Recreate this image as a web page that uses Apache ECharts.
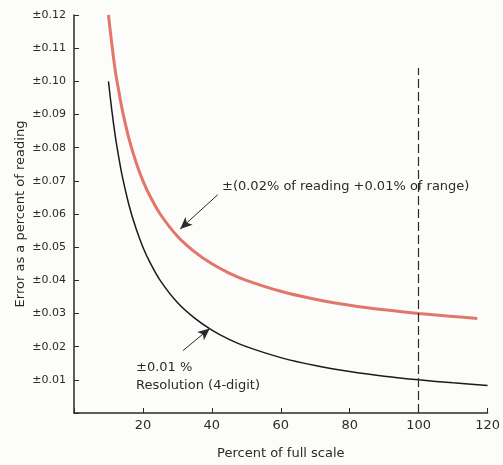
<!DOCTYPE html>
<html><head><meta charset="utf-8">
<script src="https://cdn.jsdelivr.net/npm/echarts@6/dist/echarts.min.js"></script>
<style>html,body{margin:0;padding:0;background:#fcfcfa;}#c{width:503px;height:465px;}</style>
</head><body><div id="c"></div>
<script>
// Percent of full scale (x) and error as percent of reading (y)
const redX = [10, 11, 12, 13, 14, 16, 18, 20, 22, 25, 30, 35, 40, 45, 50, 60, 70, 80, 90, 100, 110, 117];
const redY = [0.120, 0.111, 0.103, 0.097, 0.0914, 0.0825, 0.0756, 0.070, 0.0655, 0.060, 0.0533, 0.0486, 0.045, 0.0422, 0.040, 0.0367, 0.0343, 0.0325, 0.0311, 0.030, 0.0291, 0.0285];
const blackX = [10, 11, 12, 13, 14, 16, 18, 20, 22, 25, 30, 35, 40, 45, 50, 60, 70, 80, 90, 100, 110, 120];
const blackY = [0.100, 0.091, 0.0833, 0.077, 0.0714, 0.0625, 0.0556, 0.050, 0.0455, 0.040, 0.0333, 0.0286, 0.025, 0.0222, 0.020, 0.0167, 0.0143, 0.0125, 0.0111, 0.010, 0.0091, 0.0083];
const xTicks = [20, 40, 60, 80, 100, 120];
const yTicks = [0.01,0.02,0.03,0.04,0.05,0.06,0.07,0.08,0.09,0.10,0.11,0.12];
const refX = 100, refTop = 0.104;
const redLabel = '±(0.02% of reading +0.01% of range)';
const blackLabel1 = '±0.01 %';
const blackLabel2 = 'Resolution (4-digit)';

const FONT = 'DejaVu Sans';
const ink = '#2a2a2a';
const chart = echarts.init(document.getElementById('c'));
const zip = (a, b) => a.map((v, i) => [v, b[i]]);
chart.setOption({
  backgroundColor: '#fcfcfa',
  animation: false,
  grid: { left: 74, right: 15, top: 15, bottom: 47 },
  xAxis: {
    type: 'value', min: 0, max: 120, interval: 20,
    name: 'Percent of full scale', nameLocation: 'middle', nameGap: 34,
    nameTextStyle: { fontFamily: FONT, fontSize: 13, color: ink },
    axisLine: { lineStyle: { color: ink, width: 1.5 } },
    axisTick: { inside: true, length: 5, lineStyle: { color: ink } },
    axisLabel: { fontFamily: FONT, fontSize: 13, color: ink, margin: 6,
      formatter: v => xTicks.includes(v) ? String(v) : '' },
    splitLine: { show: false }
  },
  yAxis: {
    type: 'value', min: 0, max: 0.12, interval: 0.01,
    name: 'Error as a percent of reading', nameLocation: 'middle', nameGap: 47,
    nameMoveOverlap: false,
    nameTextStyle: { fontFamily: FONT, fontSize: 13, color: ink },
    axisLine: { show: true, lineStyle: { color: ink, width: 1.5 } },
    axisTick: { inside: true, length: 5, lineStyle: { color: ink } },
    axisLabel: { fontFamily: FONT, fontSize: 11, color: ink, margin: 8,
      formatter: v => {
        const t = yTicks.find(y => Math.abs(y - v) < 1e-6);
        return t ? '±' + t.toFixed(2) : '';
      } },
    splitLine: { show: false }
  },
  series: [
    {
      type: 'line', data: zip(redX, redY), smooth: 0.3, showSymbol: false,
      lineStyle: { color: '#e2766a', width: 3 }, z: 3,
      markLine: {
        silent: true, symbol: ['none', 'arrow'], symbolSize: [8, 12],
        label: { show: false },
        lineStyle: { color: ink, width: 1, type: 'solid' },
        data: [[{ coord: [41.7, 0.0658] }, { coord: [30.8, 0.0555] }]]
      }
    },
    {
      type: 'line', data: zip(blackX, blackY), smooth: 0.3, showSymbol: false,
      lineStyle: { color: '#1a1a1a', width: 1.5 }, z: 3,
      markLine: {
        silent: true, symbol: ['none', 'arrow'], symbolSize: [8, 12],
        label: { show: false },
        lineStyle: { color: ink, width: 1, type: 'solid' },
        data: [
          [{ coord: [31.6, 0.0188] }, { coord: [39.4, 0.0255] }],
          [{ coord: [refX, 0], lineStyle: { type: [9, 4], width: 1.2, color: ink }, symbol: 'none' },
           { coord: [refX, refTop], symbol: 'none' }]
        ]
      }
    }
  ],
  graphic: [
    { type: 'text', left: 222, top: 180, style: { text: redLabel, font: '13px "DejaVu Sans"', fill: ink } },
    { type: 'text', left: 136, top: 361, style: { text: blackLabel1, font: '13px "DejaVu Sans"', fill: ink } },
    { type: 'text', left: 136, top: 379, style: { text: blackLabel2, font: '13px "DejaVu Sans"', fill: ink } }
  ]
});
</script></body></html>
